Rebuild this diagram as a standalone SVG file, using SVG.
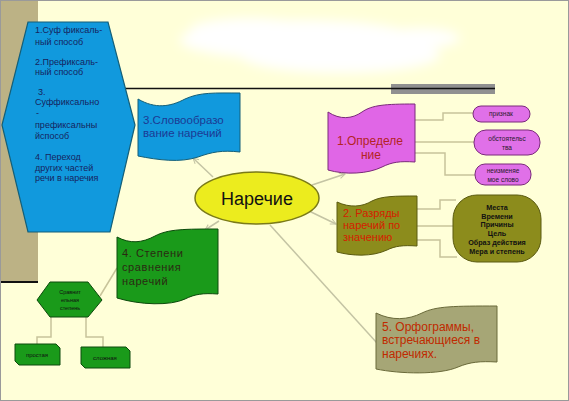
<svg xmlns="http://www.w3.org/2000/svg" width="569" height="401" viewBox="0 0 569 401">
<defs>
<filter id="blur" x="-20%" y="-50%" width="140%" height="200%"><feGaussianBlur stdDeviation="6"/></filter>
<marker id="arr" viewBox="0 0 10 10" refX="9" refY="5" markerWidth="7" markerHeight="7" orient="auto" markerUnits="userSpaceOnUse">
<path d="M1,1 L9,5 L1,9" fill="none" stroke="#c4c4a4" stroke-width="1.5"/>
</marker>
<style>
text{font-family:"Liberation Sans",Arial,sans-serif}
.con{fill:none;stroke:#c8c49a;stroke-width:1.5}
.arrow{fill:none;stroke:#c4c4a4;stroke-width:1.5}
.pill{fill:#e070e8;stroke:#7a2a7a;stroke-width:1}
.small{font-size:6.5px;fill:#2a1a2a;text-anchor:middle}
.olive{fill:#8c8c1c;stroke:#5a5a10;stroke-width:1}
.green{fill:#1a9a1a;stroke:#0c4a0c;stroke-width:1}
</style>
</defs>
<rect x="0" y="0" width="569" height="401" fill="#ffffd8"/>
<rect x="0" y="0" width="38" height="282" fill="#bcb285"/>
<line x1="0" y1="282" x2="38" y2="282" stroke="#111" stroke-width="2"/>
<g filter="url(#blur)" fill="#ffffff">
<ellipse cx="300" cy="40" rx="120" ry="20"/>
<ellipse cx="340" cy="55" rx="100" ry="18"/>
<ellipse cx="250" cy="30" rx="60" ry="12"/>
<ellipse cx="420" cy="38" rx="40" ry="10"/>
</g>
<rect x="391" y="84" width="104" height="10" fill="#909090"/>
<line x1="118" y1="88.5" x2="495" y2="88.5" stroke="#111" stroke-width="1.5"/>
<rect x="0.5" y="0.5" width="568" height="400" fill="none" stroke="#9a9a9a" stroke-width="1"/>

<g id="connectors">
<line class="arrow" x1="213" y1="177" x2="193" y2="158" marker-end="url(#arr)"/>
<line class="arrow" x1="312" y1="185" x2="345" y2="174" marker-end="url(#arr)"/>
<line class="arrow" x1="309" y1="211" x2="336" y2="224" marker-end="url(#arr)"/>
<line class="arrow" x1="219" y1="221" x2="205" y2="230" marker-end="url(#arr)"/>
<line class="arrow" x1="270" y1="225" x2="377" y2="343"/>
<polyline class="con" points="415,120 443,120 443,113 473,113"/>
<polyline class="con" points="415,142 475,142"/>
<polyline class="con" points="415,153 445,153 445,175 476,175"/>
<polyline class="con" points="417,209 440,209 440,200 456,200"/>
<polyline class="con" points="417,226 455,226"/>
<polyline class="con" points="417,240 440,240 440,257 457,257"/>
<line class="con" x1="100" y1="296" x2="117" y2="268"/>
<polyline class="con" points="51,317 51,337 37,337 37,344"/>
<polyline class="con" points="86,317 86,337 103,337 103,347"/>
</g>

<g id="hex-methods">
<polygon points="28,22 108,22 135,125 110,232 28,232 2,125" fill="#1199dd" stroke="#145f78" stroke-width="1.2"/>
<g font-size="9" fill="#16245e">
<text x="35" y="33">1.Суф фиксаль-</text>
<text x="35" y="45">ный способ</text>
<text x="35" y="65">2.Префиксаль-</text>
<text x="35" y="75">ный способ</text>
<text x="38" y="95">3.</text>
<text x="35" y="105">Суффиксально</text>
<text x="36" y="116">-</text>
<text x="35" y="128">префиксальны</text>
<text x="35" y="139">йспособ</text>
<text x="35" y="160">4. Переход</text>
<text x="35" y="171">других частей</text>
<text x="35" y="181">речи в наречия</text>
</g>
</g>

<g id="node-3">
<path d="M138,99 C155,109 170,107 185,99 C200,92 215,93 240,93 L240,152 C222,150 212,152 198,157 C180,163 158,160 138,156 Z" fill="#1199dd" stroke="#145f78" stroke-width="1"/>
<text x="143" y="124" font-size="11.5" fill="#1c3a94">3.Словообразо</text>
<text x="143" y="137" font-size="11.5" fill="#1c3a94">вание наречий</text>
</g>

<g id="node-1">
<path d="M328,112 C340,120 352,119 362,112 C372,105 385,104 415,104 L415,162 C400,161 392,162 382,167 C368,174 345,175 328,170 Z" fill="#e066e6" stroke="#7a2a7a" stroke-width="1"/>
<text x="337" y="145" font-size="12" fill="#b42424">1.Определе</text>
<text x="371" y="159" font-size="12" fill="#b42424" text-anchor="middle">ние</text>
</g>

<g id="pill-1">
<rect class="pill" x="473" y="106" width="57" height="16" rx="8"/>
<text class="small" x="501" y="116">признак</text>
</g>
<g id="pill-2">
<rect class="pill" x="474" y="130" width="66" height="25" rx="12"/>
<text class="small" x="507" y="141">обстоятельс</text>
<text class="small" x="507" y="150">тва</text>
</g>
<g id="pill-3">
<rect class="pill" x="475" y="164" width="56" height="21" rx="10"/>
<text class="small" x="503" y="173">неизменяе</text>
<text class="small" x="503" y="182">мое слово</text>
</g>

<g id="center">
<ellipse cx="257" cy="198" rx="62" ry="26" fill="#ecec1e" stroke="#7a7a18" stroke-width="1.5"/>
<text x="257" y="205" font-size="18" fill="#111" text-anchor="middle">Наречие</text>
</g>

<g id="node-2">
<path class="olive" d="M337,202 C350,208 362,207 372,201 C382,196 395,196 417,196 L417,246 C403,245 395,246 387,250 C372,257 352,256 337,252 Z"/>
<g font-size="11" fill="#d42000">
<text x="343" y="217">2. Разряды</text>
<text x="343" y="229">наречий по</text>
<text x="343" y="241">значению</text>
</g>
</g>

<g id="kinds">
<rect class="olive" x="453" y="195" width="88" height="67" rx="24"/>
<g font-size="7.2" fill="#111" text-anchor="middle" font-weight="bold">
<text x="497" y="210">Места</text>
<text x="497" y="219">Времени</text>
<text x="497" y="227">Причины</text>
<text x="497" y="236">Цель</text>
<text x="497" y="245">Образ действия</text>
<text x="497" y="254">Мера и степень</text>
</g>
</g>

<g id="node-4">
<path class="green" d="M117,237 C130,244 142,243 155,236 C168,229 185,229 218,229 L218,294 C203,293 195,294 185,299 C170,306 140,305 117,298 Z"/>
<g font-size="11" fill="#2a2a12" letter-spacing="0.6">
<text x="122" y="257">4. Степени</text>
<text x="122" y="271">сравнения</text>
<text x="122" y="285">наречий</text>
</g>
</g>

<g id="hex-degree">
<polygon class="green" points="50,282 88,282 102,300 88,317 50,317 37,300"/>
<g font-size="5.5" fill="#111" text-anchor="middle">
<text x="70" y="294">Сравнит</text>
<text x="70" y="302">ельная</text>
<text x="70" y="310">степень</text>
</g>
</g>

<g id="simple">
<path class="green" d="M15,344 L56,344 L60,348 L60,365 L19,365 L15,361 Z"/>
<text x="37" y="357" font-size="6" fill="#111" text-anchor="middle">простая</text>
</g>
<g id="complex">
<path class="green" d="M81,347 L126,347 L130,351 L130,368 L85,368 L81,364 Z"/>
<text x="105" y="360" font-size="6" fill="#111" text-anchor="middle">сложная</text>
</g>

<g id="node-5">
<path d="M376,313 C392,321 408,320 422,313 C436,306 455,306 497,306 L497,362 C480,361 470,362 458,367 C440,375 400,374 376,369 Z" fill="#a6a676" stroke="#6a6a3a" stroke-width="1"/>
<g font-size="12" fill="#c02a00">
<text x="382" y="331">5. Орфограммы,</text>
<text x="382" y="344">встречающиеся в</text>
<text x="382" y="358">наречиях.</text>
</g>
</g>
</svg>
